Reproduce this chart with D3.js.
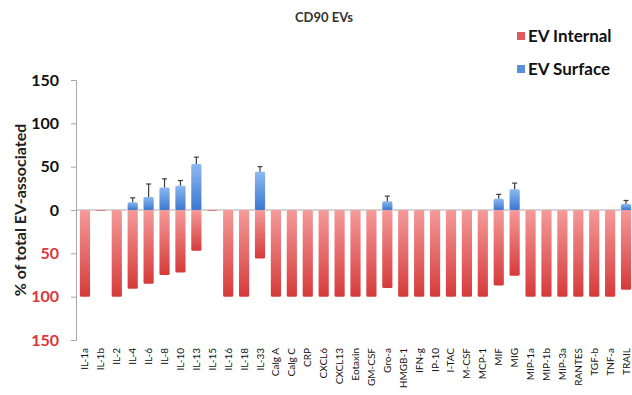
<!DOCTYPE html>
<html>
<head>
<meta charset="utf-8">
<script src="https://cdn.jsdelivr.net/npm/d3@7"></script>
<style>
  body { margin: 0; background: #fff; }
  text { font-family: Lato, "Open Sans", sans-serif; }
</style>
</head>
<body>
<script>
// Data
const categories = ['IL-1a', 'IL-1b', 'IL-2', 'IL-4', 'IL-6', 'IL-8', 'IL-10', 'IL-13', 'IL-15', 'IL-16',
    'IL-18', 'IL-33', 'Calg A', 'Calg C', 'CRP', 'CXCL6', 'CXCL13', 'Eotaxin', 'GM-CSF', 'Gro-a',
    'HMGB-1', 'IFN-g', 'IP-10', 'I-TAC', 'M-CSF', 'MCP-1', 'MIF', 'MIG', 'MIP-1a', 'MIP-1b',
    'MIP-3a', 'RANTES', 'TGF-b', 'TNF-a', 'TRAIL'];
const internal = [100, 1, 100, 91, 85, 75, 72, 47, 1, 100,
    100, 56, 100, 100, 100, 100, 100, 100, 100, 90,
    100, 100, 100, 100, 100, 100, 87, 76, 100, 100,
    100, 100, 100, 100, 92];
const surface = [0, 0, 0, 9, 15, 26, 28, 53, 0, 0,
    0, 44, 0, 0, 0, 0, 0, 0, 0, 10,
    0, 0, 0, 0, 0, 0, 13, 24, 0, 0,
    0, 0, 0, 0, 7];
const surfaceErr = [0, 0, 0, 5, 15, 10, 6, 8, 0, 0,
    0, 6, 0, 0, 0, 0, 0, 0, 0, 6,
    0, 0, 0, 0, 0, 0, 5, 7, 0, 0,
    0, 0, 0, 0, 4];
const yTicks = [-150, -100, -50, 0, 50, 100, 150];
const seriesNames = ['EV Internal', 'EV Surface'];

const width = 632;
const height = 395;

const svg = d3.select('body').append('svg')
    .attr('width', width)
    .attr('height', height);

const defs = svg.append('defs');
const redGrad = defs.append('linearGradient').attr('id', 'redGrad')
    .attr('x1', 0).attr('y1', 0).attr('x2', 0).attr('y2', 1);
redGrad.append('stop').attr('offset', '0%').attr('stop-color', '#f59a9a');
redGrad.append('stop').attr('offset', '100%').attr('stop-color', '#d63a3a');
const blueGrad = defs.append('linearGradient').attr('id', 'blueGrad')
    .attr('x1', 0).attr('y1', 0).attr('x2', 0).attr('y2', 1);
blueGrad.append('stop').attr('offset', '0%').attr('stop-color', '#8db8ef');
blueGrad.append('stop').attr('offset', '100%').attr('stop-color', '#3a78d2');

// Scales
const x = d3.scaleBand()
    .domain(categories)
    .range([77, 634])
    .paddingInner(0.36)
    .paddingOuter(0.18);

const y = d3.scaleLinear()
    .domain([-150, 150])
    .range([340, 80]);

// Y axis
const yAxis = svg.append('g')
    .attr('transform', 'translate(76,0)')
    .call(d3.axisLeft(y).tickValues(yTicks).tickSize(5).tickPadding(12)
        .tickFormat(d => Math.abs(d)));
yAxis.select('.domain').attr('stroke', '#a8a8a8');
yAxis.selectAll('.tick line').attr('stroke', '#a8a8a8');
yAxis.selectAll('.tick text')
    .attr('font-size', 16)
    .attr('font-weight', 'bold')
    .attr('font-family', 'Lato, sans-serif')
    .attr('fill', d => d < 0 ? '#e0343c' : '#111');

// Zero line
svg.append('line')
    .attr('x1', 76).attr('x2', 634)
    .attr('y1', y(0)).attr('y2', y(0))
    .attr('stroke', '#a8a8a8');

// Internal bars (drawn downward)
svg.selectAll('rect.internal')
    .data(categories)
    .enter().append('rect')
    .attr('class', 'internal')
    .attr('x', d => x(d))
    .attr('y', y(0))
    .attr('width', x.bandwidth())
    .attr('height', (d, i) => y(-internal[i]) - y(0))
    .attr('rx', 1.5)
    .attr('fill', 'url(#redGrad)');

// Surface bars (drawn upward)
svg.selectAll('rect.surface')
    .data(categories)
    .enter().append('rect')
    .attr('class', 'surface')
    .attr('x', d => x(d))
    .attr('y', (d, i) => y(surface[i]))
    .attr('width', x.bandwidth())
    .attr('height', (d, i) => y(0) - y(surface[i]))
    .attr('rx', 1.5)
    .attr('fill', 'url(#blueGrad)');

// Error bars
const err = svg.selectAll('g.err')
    .data(categories.filter((d, i) => surfaceErr[i] > 0))
    .enter().append('g')
    .attr('class', 'err')
    .attr('stroke', '#3c3c3c')
    .attr('stroke-width', 1.2);
err.append('line')
    .attr('x1', d => x(d) + x.bandwidth() / 2)
    .attr('x2', d => x(d) + x.bandwidth() / 2)
    .attr('y1', d => y(surface[categories.indexOf(d)]))
    .attr('y2', d => { const i = categories.indexOf(d); return y(surface[i] + surfaceErr[i]); });
err.append('line')
    .attr('x1', d => x(d) + x.bandwidth() / 2 - 2.5)
    .attr('x2', d => x(d) + x.bandwidth() / 2 + 2.5)
    .attr('y1', d => { const i = categories.indexOf(d); return y(surface[i] + surfaceErr[i]); })
    .attr('y2', d => { const i = categories.indexOf(d); return y(surface[i] + surfaceErr[i]); });

// Category labels
svg.selectAll('text.cat')
    .data(categories)
    .enter().append('text')
    .attr('class', 'cat')
    .attr('transform', d => `translate(${x(d) + x.bandwidth() / 2 + 3.5},348) rotate(-90)`)
    .attr('text-anchor', 'end')
    .attr('font-size', 10)
    .attr('font-family', 'Liberation Sans, Arial, sans-serif')
    .attr('fill', '#111')
    .text(d => d);

// Y axis title
svg.append('text')
    .attr('transform', 'translate(26,210) rotate(-90)')
    .attr('text-anchor', 'middle')
    .attr('font-size', 16)
    .attr('font-weight', 'bold')
    .attr('fill', '#222')
    .text('% of total EV-associated');

// Chart title
svg.append('text')
    .attr('x', 324)
    .attr('y', 22)
    .attr('text-anchor', 'middle')
    .attr('font-size', 13)
    .attr('font-weight', 'bold')
    .attr('fill', '#333')
    .text('CD90 EVs');

// Legend
const legend = svg.selectAll('g.legend')
    .data(seriesNames)
    .enter().append('g')
    .attr('class', 'legend')
    .attr('transform', (d, i) => `translate(517,${36 + i * 33})`);
legend.append('rect')
    .attr('x', 0).attr('y', -4)
    .attr('width', 8).attr('height', 8)
    .attr('fill', (d, i) => i === 0 ? '#e05a5e' : '#5b8fdc');
legend.append('text')
    .attr('x', 11)
    .attr('dy', '0.35em')
    .attr('font-size', 17)
    .attr('font-weight', 'bold')
    .attr('font-family', '"Open Sans", sans-serif')
    .attr('fill', '#111')
    .text(d => d);
</script>
</body>
</html>
